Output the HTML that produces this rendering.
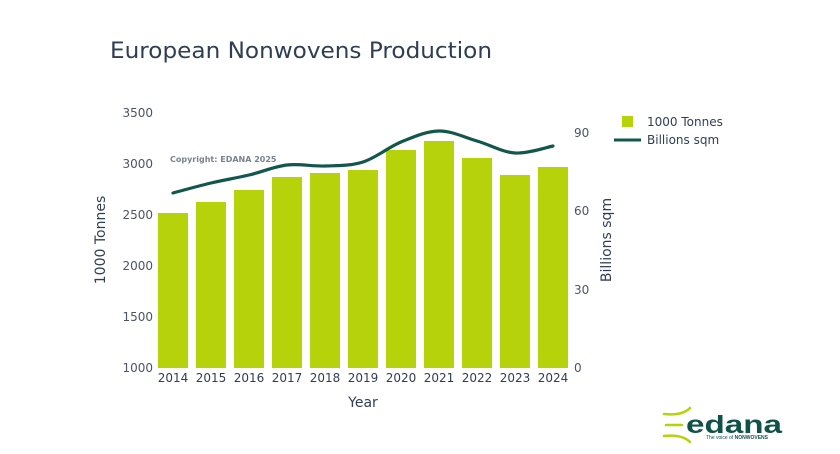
<!DOCTYPE html>
<html><head><meta charset="utf-8"><style>
html,body{margin:0;padding:0;background:#fff;}
svg{display:block;font-family:"DejaVu Sans","Liberation Sans",sans-serif;}
</style></head><body>
<svg width="840" height="454" viewBox="0 0 840 454" xmlns="http://www.w3.org/2000/svg">
<rect width="840" height="454" fill="#fff"/>
<text x="110" y="58" font-size="22" fill="#2f3e55" textLength="382" lengthAdjust="spacingAndGlyphs">European Nonwovens Production</text>
<g font-size="12" fill="#4a5568" text-anchor="end">
<text x="153" y="117">3500</text>
<text x="153" y="168">3000</text>
<text x="153" y="219">2500</text>
<text x="153" y="270">2000</text>
<text x="153" y="321">1500</text>
<text x="153" y="372">1000</text>
</g>
<g font-size="12" fill="#4a5568" text-anchor="start">
<text x="574" y="137">90</text>
<text x="574" y="215">60</text>
<text x="574" y="294">30</text>
<text x="574" y="372">0</text>
</g>
<text transform="translate(105,240) rotate(-90)" font-size="14" fill="#2f3e55" text-anchor="middle">1000 Tonnes</text>
<text transform="translate(611,240) rotate(-90)" font-size="14" fill="#2f3e55" text-anchor="middle">Billions sqm</text>
<g fill="#b5d20a">
<rect x="158" y="213" width="30" height="155"/>
<rect x="196" y="202" width="30" height="166"/>
<rect x="234" y="190" width="30" height="178"/>
<rect x="272" y="177" width="30" height="191"/>
<rect x="310" y="173" width="30" height="195"/>
<rect x="348" y="170" width="30" height="198"/>
<rect x="386" y="150" width="30" height="218"/>
<rect x="424" y="141" width="30" height="227"/>
<rect x="462" y="158" width="30" height="210"/>
<rect x="500" y="175" width="30" height="193"/>
<rect x="538" y="167" width="30" height="201"/>
</g>
<path d="M173,193 C179.3,191.3 198.3,186 211,183 C223.7,180 236.3,178 249,175 C261.7,172 274.3,166.5 287,165 C299.7,163.5 312.3,166.5 325,166 C337.7,165.5 350.3,166 363,162 C375.7,158 388.3,147.2 401,142 C413.7,136.8 426.3,131.2 439,131 C451.7,130.8 464.3,137.3 477,141 C489.7,144.7 502.3,152.2 515,153 C527.7,153.8 546.7,147.2 553,146" fill="none" stroke="#12574c" stroke-width="3.2" stroke-linecap="round"/>
<text x="170" y="162" font-size="8" font-weight="bold" fill="#7a8290">Copyright: EDANA 2025</text>
<g font-size="12" fill="#2f3e55" text-anchor="middle">
<text x="173" y="382">2014</text><text x="211" y="382">2015</text><text x="249" y="382">2016</text>
<text x="287" y="382">2017</text><text x="325" y="382">2018</text><text x="363" y="382">2019</text>
<text x="401" y="382">2020</text><text x="439" y="382">2021</text><text x="477" y="382">2022</text>
<text x="515" y="382">2023</text><text x="553" y="382">2024</text>
</g>
<text x="363" y="407" font-size="14" fill="#2f3e55" text-anchor="middle">Year</text>
<rect x="622" y="116" width="11" height="11" fill="#b5d20a"/>
<text x="647" y="126" font-size="12" fill="#2f3e55">1000 Tonnes</text>
<line x1="614" y1="140" x2="641" y2="140" stroke="#12574c" stroke-width="3"/>
<text x="647" y="144" font-size="12" fill="#2f3e55">Billions sqm</text>
<g fill="none" stroke="#b5d20a" stroke-width="2.5" stroke-linecap="round">
<path d="M664,414 Q682,416 690,408"/>
<path d="M664,436 Q682,434 690,442"/>
<path d="M666,425 L682,425"/>
</g>
<text x="686" y="433" font-size="25" font-weight="bold" fill="#0f5247" font-family="Liberation Sans,sans-serif" textLength="96" lengthAdjust="spacingAndGlyphs">edana</text>
<text x="706" y="439" font-size="5" fill="#0f5247" font-family="Liberation Sans,sans-serif">The voice of <tspan font-weight="bold">NONWOVENS</tspan></text>
</svg>
</body></html>
